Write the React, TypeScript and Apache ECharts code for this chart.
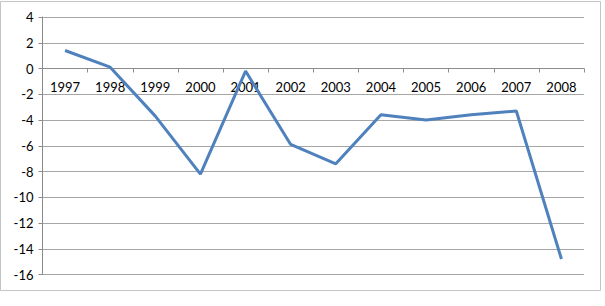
import React, { useEffect, useRef } from "react";
import * as echarts from "echarts";

const categories = ["1997", "1998", "1999", "2000", "2001", "2002", "2003", "2004", "2005", "2006", "2007", "2008"];
const values = [1.4, 0.1, -3.7, -8.2, -0.2, -5.9, -7.4, -3.6, -4.0, -3.6, -3.3, -14.8];
const yMin = -16;
const yMax = 4;

export default function App() {
  const ref = useRef<HTMLDivElement>(null);
  useEffect(() => {
    if (!ref.current) return;
    const chart = echarts.init(ref.current, null, { renderer: "svg" });
    const gridTop = 17;
    const gridBottom = 31.5;
    const plotH = 306 - gridTop - gridBottom;
    const zeroOffset = -plotH * (0 - yMin) / (yMax - yMin);
    chart.setOption({
      animation: false,
      backgroundColor: "#ffffff",
      textStyle: { fontFamily: "Lato" },
      graphic: [
        {
          type: "rect",
          shape: { x: 0.5, y: 1.5, width: 600, height: 289 },
          style: { fill: "none", stroke: "#c4c4c4", lineWidth: 1 },
          silent: true,
        },
      ],
      grid: { left: 42.5, right: 21, top: gridTop, bottom: gridBottom },
      xAxis: {
        type: "category",
        data: categories,
        boundaryGap: true,
        offset: zeroOffset,
        z: 1,
        axisLine: { onZero: false, lineStyle: { color: "#8c8c8c", width: 1 } },
        axisTick: { show: true, alignWithLabel: false, length: 4, lineStyle: { color: "#8c8c8c" } },
        axisLabel: { color: "#000000", fontSize: 13, margin: 12, fontFamily: "Lato" },
        splitLine: { show: false },
      },
      yAxis: {
        type: "value",
        min: yMin,
        max: yMax,
        interval: 2,
        axisLine: { show: true, onZero: false, lineStyle: { color: "#8c8c8c", width: 1 } },
        axisTick: { show: true, length: 4, lineStyle: { color: "#8c8c8c" } },
        axisLabel: { color: "#000000", fontSize: 13, margin: 9, fontFamily: "Lato" },
        splitLine: { show: true, lineStyle: { color: "#a6a6a6", width: 1 } },
      },
      series: [
        {
          type: "line",
          z: 10,
          data: values,
          symbol: "none",
          lineStyle: { color: "#4f81bd", width: 3 },
          itemStyle: { color: "#4f81bd" },
        },
      ],
    });
    return () => chart.dispose();
  }, []);
  return (
    <div
      ref={ref}
      style={{ position: "fixed", left: 0, top: 0, width: 605, height: 306 }}
    />
  );
}
